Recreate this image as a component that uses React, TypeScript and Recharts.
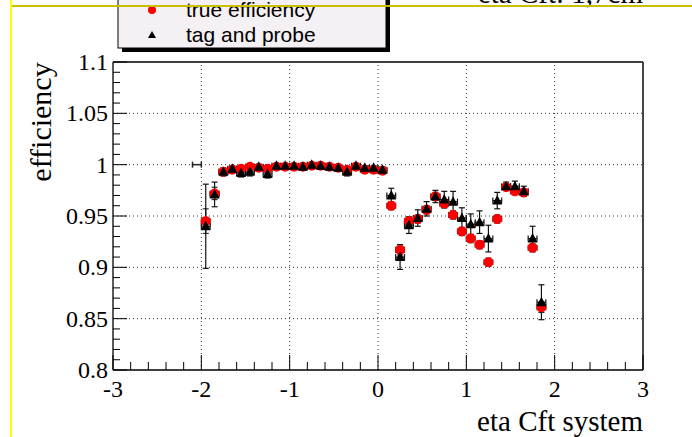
import React from 'react';
import { ScatterChart, Scatter, XAxis, YAxis, ErrorBar, ReferenceLine } from 'recharts';

// bin centres in eta (bin width 0.1)
const etaBins = [
  -1.95, -1.85, -1.75, -1.65, -1.55, -1.45, -1.35, -1.25, -1.15, -1.05,
  -0.95, -0.85, -0.75, -0.65, -0.55, -0.45, -0.35, -0.25, -0.15, -0.05,
  0.05, 0.15, 0.25, 0.35, 0.45, 0.55, 0.65, 0.75, 0.85, 0.95,
  1.05, 1.15, 1.25, 1.35, 1.45, 1.55, 1.65, 1.75, 1.85,
];

const trueEff = [
  0.945, 0.972, 0.993, 0.995, 0.996, 0.998, 0.997, 0.996, 0.998, 0.998,
  0.998, 0.998, 0.999, 0.999, 0.998, 0.997, 0.995, 0.998, 0.995, 0.995,
  0.994, 0.960, 0.917, 0.945, 0.947, 0.956, 0.969, 0.962, 0.951, 0.935,
  0.928, 0.922, 0.905, 0.947, 0.978, 0.974, 0.973, 0.919, 0.861,
];
const trueErr = [
  0.012, 0.006, 0.003, 0.002, 0.002, 0.002, 0.002, 0.002, 0.002, 0.002,
  0.002, 0.002, 0.002, 0.002, 0.002, 0.002, 0.002, 0.002, 0.002, 0.002,
  0.002, 0.004, 0.005, 0.004, 0.004, 0.004, 0.004, 0.004, 0.004, 0.004,
  0.004, 0.004, 0.004, 0.004, 0.003, 0.003, 0.003, 0.004, 0.005,
];

const tagProbeEff = [
  0.940, 0.971, 0.993, 0.996, 0.992, 0.993, 0.998, 0.991, 0.999, 0.999,
  0.999, 0.998, 1.000, 0.999, 0.998, 0.997, 0.993, 0.999, 0.997, 0.997,
  0.995, 0.970, 0.910, 0.941, 0.948, 0.957, 0.969, 0.966, 0.964, 0.948,
  0.942, 0.944, 0.928, 0.965, 0.979, 0.979, 0.974, 0.928, 0.866,
];
const tagProbeErr = [
  0.041, 0.012, 0.004, 0.003, 0.004, 0.004, 0.002, 0.004, 0.002, 0.002,
  0.002, 0.002, 0.002, 0.002, 0.002, 0.002, 0.004, 0.002, 0.002, 0.002,
  0.003, 0.007, 0.012, 0.008, 0.008, 0.007, 0.006, 0.008, 0.010, 0.010,
  0.010, 0.011, 0.013, 0.008, 0.004, 0.005, 0.005, 0.012, 0.017,
];

// lone empty bin drawn only as its horizontal error bar
const edgeBin = [{ eta: -2.05, eff: 1.0, errX: 0.05, errY: 0 }];

const binHalfWidth = 0.05;

const xMajorTicks = [-3, -2, -1, 0, 1, 2, 3];
const yMajorTicks = [0.8, 0.85, 0.9, 0.95, 1, 1.05, 1.1];

// 5 subdivisions between major ticks (ROOT style)
const subdivide = (majors: number[]) => {
  const out: number[] = [];
  for (let i = 0; i < majors.length - 1; i++) {
    const step = (majors[i + 1] - majors[i]) / 5;
    for (let k = 0; k < 5; k++) out.push(+(majors[i] + k * step).toFixed(4));
  }
  out.push(majors[majors.length - 1]);
  return out;
};
const xTicks = subdivide(xMajorTicks);
const yTicks = subdivide(yMajorTicks);

const trueData = etaBins.map((eta, i) => ({ eta, eff: trueEff[i], errY: trueErr[i], errX: binHalfWidth }));
const tagData = etaBins.map((eta, i) => ({ eta, eff: tagProbeEff[i], errY: tagProbeErr[i], errX: binHalfWidth }));

const serif = '"Liberation Serif", "DejaVu Serif", serif';
const sans = '"Liberation Sans", Arial, sans-serif';

const isMajor = (v: number, majors: number[]) => majors.some((m) => Math.abs(m - v) < 1e-6);

const XTick = (props: any) => {
  const { x, y, payload } = props;
  const major = isMajor(payload.value, xMajorTicks);
  return (
    <g>
      <line x1={x} y1={y} x2={x} y2={y - (major ? 15 : 8)} stroke="#000" strokeWidth={1} />
      {major && (
        <text x={x} y={y + 27} textAnchor="middle" fontFamily={serif} fontSize={24} fill="#000">
          {payload.value}
        </text>
      )}
    </g>
  );
};

const YTick = (props: any) => {
  const { x, y, payload } = props;
  const major = isMajor(payload.value, yMajorTicks);
  return (
    <g>
      <line x1={x} y1={y} x2={x + (major ? 14 : 7)} y2={y} stroke="#000" strokeWidth={1} />
      {major && (
        <text x={x - 5} y={y + 8} textAnchor="end" fontFamily={serif} fontSize={24} fill="#000">
          {payload.value}
        </text>
      )}
    </g>
  );
};

const Dot = (props: any) => <circle cx={props.cx} cy={props.cy} r={5} fill="#ff0000" />;

const Triangle = (props: any) => {
  const { cx, cy } = props;
  return <polygon points={`${cx},${cy - 5.5} ${cx + 5},${cy + 4} ${cx - 5},${cy + 4}`} fill="#000" />;
};

const NoMarker = () => <g />;

export default function App() {
  return (
    <div style={{ position: 'absolute', left: 0, top: 0, width: 692, height: 437, overflow: 'hidden', background: '#fff' }}>
      <ScatterChart width={692} height={437} margin={{ top: 62, right: 49, bottom: 66, left: 112 }}>
        <XAxis
          type="number"
          dataKey="eta"
          domain={[-3, 3]}
          ticks={xTicks}
          interval={0}
          height={1}
          tickSize={0}
          tickMargin={0}
          tickLine={false}
          tick={<XTick />}
          axisLine={{ stroke: '#000', strokeWidth: 1.3 }}
          allowDataOverflow
        />
        <YAxis
          type="number"
          dataKey="eff"
          domain={[0.8, 1.1]}
          ticks={yTicks}
          interval={0}
          width={1}
          tickSize={0}
          tickMargin={0}
          tickLine={false}
          tick={<YTick />}
          axisLine={{ stroke: '#000', strokeWidth: 1.3 }}
          allowDataOverflow
        />
        {xMajorTicks.slice(1, -1).map((v) => (
          <ReferenceLine key={`gx${v}`} x={v} stroke="#333" strokeDasharray="1 3" />
        ))}
        {yMajorTicks.slice(1, -1).map((v) => (
          <ReferenceLine key={`gy${v}`} y={v} stroke="#333" strokeDasharray="1 3" />
        ))}
        <ReferenceLine y={1.1} stroke="#000" strokeWidth={1.5} />
        <ReferenceLine x={3} stroke="#333" strokeWidth={1.8} />

        <Scatter data={edgeBin} shape={<NoMarker />} isAnimationActive={false}>
          <ErrorBar dataKey="errX" direction="x" width={3} stroke="#222" strokeWidth={1.5} />
        </Scatter>
        <Scatter name="true efficiency" data={trueData} shape={<Dot />} isAnimationActive={false}>
          <ErrorBar dataKey="errY" direction="y" width={3} stroke="#333" strokeWidth={1.2} />
          <ErrorBar dataKey="errX" direction="x" width={3} stroke="#333" strokeWidth={1.2} />
        </Scatter>
        <Scatter name="tag and probe" data={tagData} shape={<Triangle />} isAnimationActive={false}>
          <ErrorBar dataKey="errY" direction="y" width={3} stroke="#111" strokeWidth={1.2} />
          <ErrorBar dataKey="errX" direction="x" width={3} stroke="#111" strokeWidth={1.2} />
        </Scatter>
      </ScatterChart>

      {/* axis titles and frame decorations */}
      <svg width={692} height={437} style={{ position: 'absolute', left: 0, top: 0, pointerEvents: 'none' }}>
        <text x={643} y={431} textAnchor="end" fontFamily={serif} fontSize={29} fill="#000">
          eta Cft system
        </text>
        <text
          x={51}
          y={122}
          textAnchor="middle"
          fontFamily={serif}
          fontSize={30}
          fill="#000"
          transform="rotate(-90 51 122)"
        >
          efficiency
        </text>
        <text x={643} y={3} textAnchor="end" fontFamily={serif} fontSize={29} fill="#000">
          eta Cft: 1,7cm
        </text>

        {/* legend box with drop shadow */}
        <rect x={122} y={-20} width={268} height={72} fill="#000" />
        <rect x={118} y={-24} width={268} height={72} fill="#f4f0f4" stroke="#000" strokeWidth={1} />
        <circle cx={152} cy={10} r={4} fill="#ff0000" />
        <text x={186} y={17} fontFamily={sans} fontSize={21} fill="#000">true efficiency</text>
        <polygon points="152,31 156,38 148,38" fill="#000" />
        <text x={186} y={42} fontFamily={sans} fontSize={21} fill="#000">tag and probe</text>

        <rect x={10} y={5} width={682} height={2} fill="#c8bf00" />
        <rect x={10} y={0} width={2} height={437} fill="#ffff00" />
      </svg>
    </div>
  );
}
